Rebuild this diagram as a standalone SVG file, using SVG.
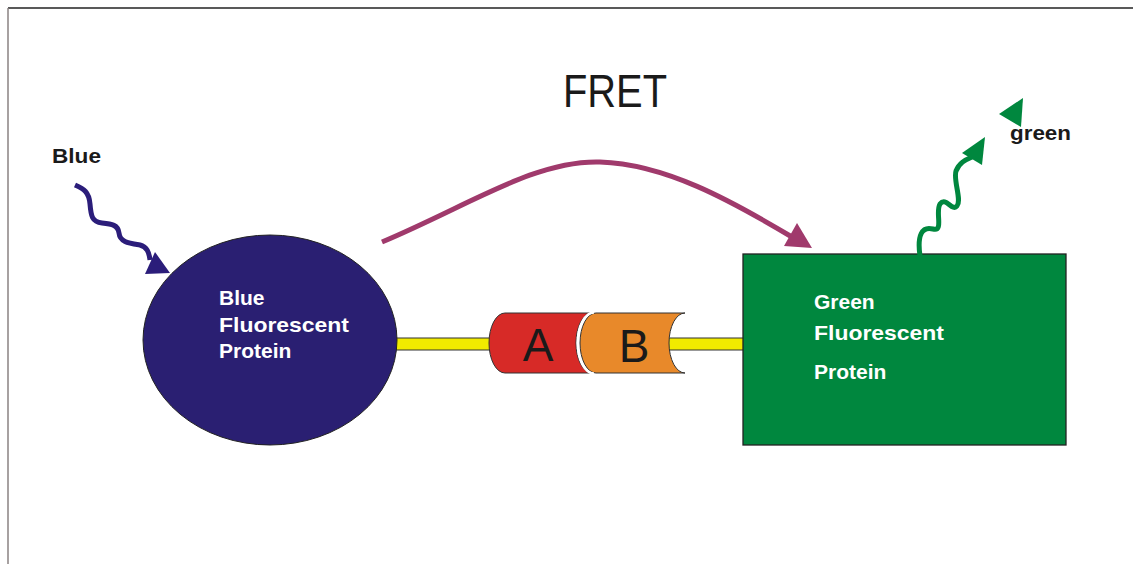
<svg xmlns="http://www.w3.org/2000/svg" width="1133" height="564" viewBox="0 0 1133 564">
<style>
.lbl{font-family:"Liberation Sans",Arial,sans-serif;font-weight:bold;font-size:21px}
.wt{fill:#ffffff}
.bk{fill:#1a1a1a}
.big{font-family:"Liberation Sans",Arial,sans-serif;font-size:46px;fill:#1a1a1a}
.bar{fill:#f1ea00;stroke:#333;stroke-width:1}
</style>
<rect width="1133" height="564" fill="#ffffff"/>
<g id="frame">
<line x1="8" y1="8" x2="1133" y2="8" stroke="#222" stroke-width="1.3"/>
<line x1="8" y1="8" x2="8" y2="564" stroke="#8a8282" stroke-width="1.5"/>
</g>
<g id="linker">
<rect class="bar" x="390" y="338" width="110" height="12"/>
<rect class="bar" x="660" y="338" width="86" height="12"/>
</g>
<g id="A">
<path d="M505,313 L592,313 A16,30 0 0 0 592,373 L505,373 A16,30 0 0 1 505,313 Z" fill="#d72a27" stroke="#333" stroke-width="1"/>
<text x="538" y="361" class="big" text-anchor="middle">A</text>
</g>
<g id="B">
<path d="M596,313 L685,313 A16,30 0 0 0 685,373 L596,373 A16,30 0 0 1 596,313 Z" fill="#e8892a" stroke="#333" stroke-width="1"/>
<path d="M594,312.5 A16,30 0 0 0 594,373.5" fill="none" stroke="#ffffff" stroke-width="2.5"/>
<text x="634" y="362" class="big" text-anchor="middle">B</text>
</g>
<g id="bfp">
<ellipse cx="270" cy="340" rx="127" ry="105" fill="#2a1f72" stroke="#222" stroke-width="1"/>
<text class="lbl wt" x="219" y="305">Blue</text>
<text class="lbl wt" x="219" y="332" textLength="130" lengthAdjust="spacingAndGlyphs">Fluorescent</text>
<text class="lbl wt" x="219" y="358">Protein</text>
</g>
<g id="gfp">
<rect x="743" y="254" width="323" height="191" fill="#00873e" stroke="#222" stroke-width="1.3"/>
<text class="lbl wt" x="814" y="309">Green</text>
<text class="lbl wt" x="814" y="340" textLength="130" lengthAdjust="spacingAndGlyphs">Fluorescent</text>
<text class="lbl wt" x="814" y="379">Protein</text>
</g>
<g id="title">
<text class="big" x="563" y="107" textLength="104" lengthAdjust="spacingAndGlyphs">FRET</text>
</g>
<g id="labels">
<text class="lbl bk" x="52" y="163" textLength="49" lengthAdjust="spacingAndGlyphs">Blue</text>
<text class="lbl bk" x="1010" y="140" textLength="61" lengthAdjust="spacingAndGlyphs">green</text>
</g>
<g id="connectors">
<path d="M75,185 C84,189 89,192 90,204 C91,216 92,222 102,223 C112,224 118,225 119,233 C120,242 128,243 140,245 C147,247 149,252 150,260" fill="none" stroke="#2b1d7a" stroke-width="5"/>
<polygon points="145,274 155,252 170,273" fill="#2b1d7a"/>
<path d="M382,242 C470,205 535,160 600,162 C665,164 730,200 792,237" fill="none" stroke="#a03a6c" stroke-width="5"/>
<polygon points="797,223 784,246 812,248" fill="#a03a6c"/>
<path d="M920,256 C917,235 922,226 933,229 C944,232 935,212 940,204 C946,196 952,212 957,206 C962,200 953,180 956,171 C959,163 965,160 972,157" fill="none" stroke="#00873e" stroke-width="5"/>
<polygon points="985,137 962,153 982,165" fill="#00873e"/>
<polygon points="1023,98 999,114 1021,127" fill="#00873e"/>
</g>
</svg>
